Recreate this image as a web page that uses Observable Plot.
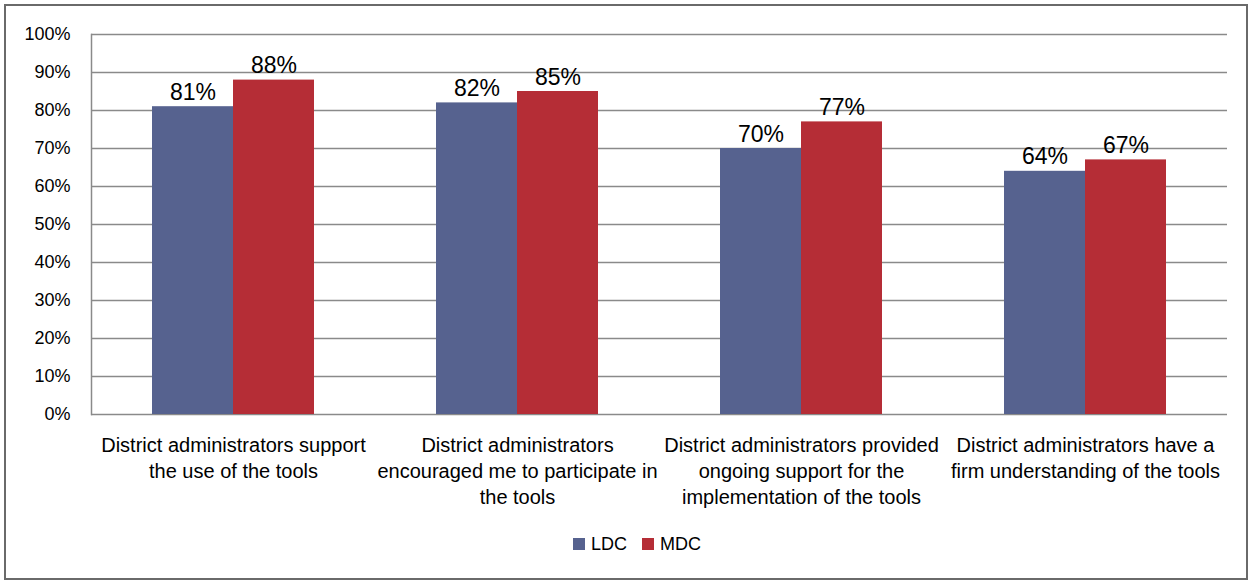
<!DOCTYPE html>
<html>
<head>
<meta charset="utf-8">
<script src="https://cdn.jsdelivr.net/npm/d3@7"></script>
<script src="https://cdn.jsdelivr.net/npm/@observablehq/plot@0.6"></script>
<style>
  body { margin: 0; background: #fff; }
  #wrap { position: relative; width: 1250px; height: 581px; overflow: hidden; background: #fff;
          font-family: "Liberation Sans", Arial, sans-serif; }
  #border { position: absolute; left: 4px; top: 4px; width: 1244px; height: 576px; box-sizing: border-box;
            border: 2px solid #6a6a6a; pointer-events: none; }
  #chart { position: absolute; left: 0; top: 0; }
  #legend { position: absolute; left: 573px; top: 534px; height: 20px; display: flex; align-items: center;
            font-size: 18px; color: #000; }
  #legend .item { display: flex; align-items: center; margin-right: 15px; }
  #legend .sw { width: 12px; height: 12px; margin-right: 6px; }
</style>
</head>
<body>
<div id="wrap">
  <div id="chart"></div>
  <div id="legend"></div>
  <div id="border"></div>
</div>
<script>
const categories = [
  "Support use",
  "Encouraged participation",
  "Ongoing support",
  "Firm understanding"
];
const tickLabels = [
  "District administrators support\nthe use of the tools",
  "District administrators\nencouraged me to participate in\nthe tools",
  "District administrators provided\nongoing support for the\nimplementation of the tools",
  "District administrators have a\nfirm understanding of the tools"
];
const series = ["LDC", "MDC"];
const ldcValues = [0.81, 0.82, 0.70, 0.64];
const mdcValues = [0.88, 0.85, 0.77, 0.67];
const colors = ["#56628f", "#b52d36"];
const yTicks = [0, 0.1, 0.2, 0.3, 0.4, 0.5, 0.6, 0.7, 0.8, 0.9, 1.0];

const rows = [];
categories.forEach((c, i) => {
  rows.push({cat: c, series: series[0], value: ldcValues[i]});
  rows.push({cat: c, series: series[1], value: mdcValues[i]});
});

const pct = d3.format(".0%");

const chart = Plot.plot({
  width: 1250,
  height: 525,
  marginTop: 34,
  marginBottom: 111,
  marginLeft: 91,
  marginRight: 23,
  style: {fontFamily: "Liberation Sans, Arial, sans-serif", fontSize: "18px", color: "#000", background: "transparent"},
  fx: {domain: categories, padding: 0, label: null},
  x: {domain: series, paddingInner: 0, paddingOuter: 0.75, axis: null},
  y: {domain: [0, 1], label: null},
  color: {domain: series, range: colors},
  marks: [
    Plot.gridY(yTicks, {stroke: "#8a8a8a", strokeOpacity: 1, strokeWidth: 1.5}),
    Plot.frame({anchor: "left", facetAnchor: "left", stroke: "#8a8a8a", strokeWidth: 1.5}),
    Plot.axisY(yTicks, {tickSize: 0, tickPadding: 21, tickFormat: pct, fontSize: 18, label: null}),
    Plot.axisFx({anchor: "bottom", tickSize: 0, tickPadding: 19, fontSize: 20, lineHeight: 1.3, label: null,
      tickFormat: d => tickLabels[categories.indexOf(d)]}),
    Plot.barY(rows, {fx: "cat", x: "series", y: "value", fill: "series"}),
    Plot.text(rows, {fx: "cat", x: "series", y: "value", text: d => pct(d.value), lineAnchor: "bottom", dy: -7, fontSize: 23, fill: "#000"})
  ]
});
document.getElementById("chart").appendChild(chart);

const legend = document.getElementById("legend");
series.forEach((s, i) => {
  const item = document.createElement("div");
  item.className = "item";
  const sw = document.createElement("div");
  sw.className = "sw";
  sw.style.background = colors[i];
  const t = document.createElement("span");
  t.textContent = s;
  item.appendChild(sw);
  item.appendChild(t);
  legend.appendChild(item);
});
</script>
</body>
</html>
